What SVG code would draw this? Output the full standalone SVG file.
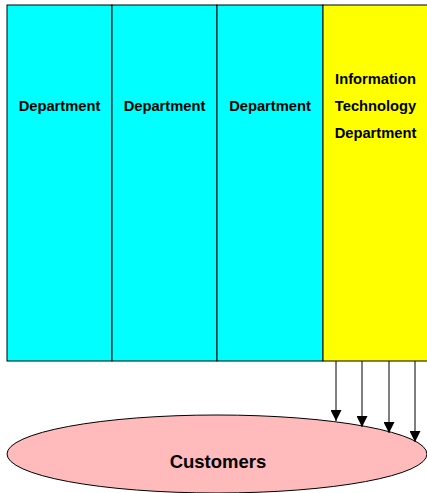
<svg xmlns="http://www.w3.org/2000/svg" width="427" height="493" viewBox="0 0 427 493">
<defs>
<style>
.dept{fill:#00ffff;stroke:#000;stroke-width:1}
.it{fill:#ffff00;stroke:#000;stroke-width:1}
.lbl{font-family:"Liberation Sans",Arial,sans-serif;font-weight:bold;font-size:14.7px;fill:#000;text-anchor:middle}
.cust{font-family:"Liberation Sans",Arial,sans-serif;font-weight:bold;font-size:18.5px;fill:#000;text-anchor:middle}
.conn{stroke:#000;stroke-width:1;fill:none;marker-end:url(#ah)}
</style>
<marker id="ah" viewBox="0 0 10 10" refX="10" refY="5" markerWidth="11" markerHeight="11" markerUnits="userSpaceOnUse" orient="auto">
<path d="M0,0 L10,5 L0,10 Z" fill="#000"/>
</marker>
</defs>
<rect width="427" height="493" fill="#fff"/>
<g id="dept1"><rect class="dept" x="7" y="5" width="105" height="356"/><text class="lbl" x="59.5" y="111">Department</text></g>
<g id="dept2"><rect class="dept" x="112" y="5" width="105" height="356"/><text class="lbl" x="164.5" y="111">Department</text></g>
<g id="dept3"><rect class="dept" x="217" y="5" width="106" height="356"/><text class="lbl" x="270" y="111">Department</text></g>
<g id="it"><rect class="it" x="323" y="5" width="110" height="356"/><text class="lbl" x="375.5" y="84">Information</text><text class="lbl" x="375.5" y="111">Technology</text><text class="lbl" x="375.5" y="138">Department</text></g>
<g id="customers"><ellipse cx="217" cy="454" rx="210" ry="39" fill="#ffbbbb" stroke="#000" stroke-width="1"/><text class="cust" x="218" y="468">Customers</text></g>
<g id="connectors">
<line class="conn" x1="336" y1="361" x2="336" y2="421"/>
<line class="conn" x1="362" y1="361" x2="362" y2="427"/>
<line class="conn" x1="389" y1="361" x2="389" y2="433"/>
<line class="conn" x1="415" y1="361" x2="415" y2="442"/>
</g>
</svg>
